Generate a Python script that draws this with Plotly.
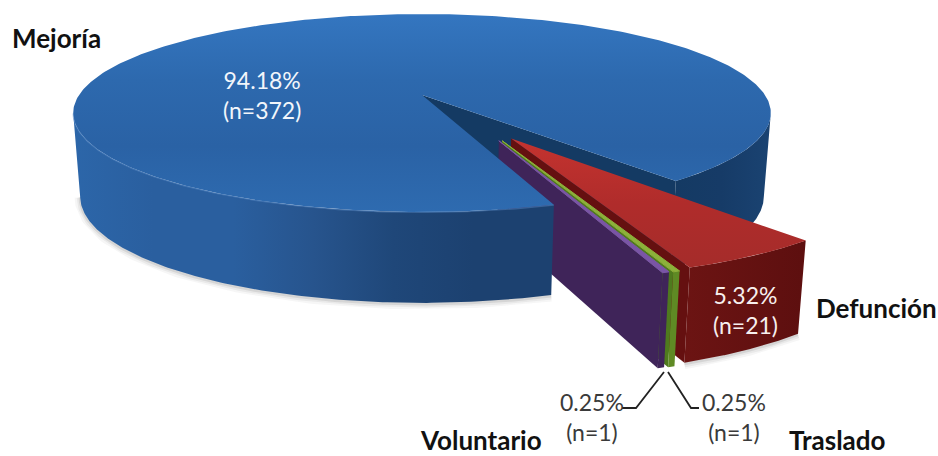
import numpy as np
import plotly.graph_objects as go

# Discharge outcome shares
categories = ["Mejoría", "Defunción", "Traslado", "Voluntario"]
percentages = [94.18, 5.32, 0.25, 0.25]
counts = [372, 21, 1, 1]

# Perspective camera for the disc, in page pixels
APEX_X, APEX_Y = 422.0, 95.0
SCALE_X, SCALE_Y = 343.0, 95.7
PERSPECTIVE = 0.182
BASE_SHRINK = 0.98
START_ANGLE = -50.5

# Slice offsets in the disc plane
OFFSETS = {
    "Mejoría": (0.0, 0.0),
    "Defunción": (0.24, -0.42),
    "Traslado": (0.215, -0.44),
    "Voluntario": (0.206, -0.44),
}


def project(u, v, base=False):
    u, v = np.asarray(u, float), np.asarray(v, float)
    w = 1 + PERSPECTIVE * v
    x = APEX_X + SCALE_X * u / w
    y = APEX_Y - SCALE_Y * v / w
    if base:
        x = APEX_X + BASE_SHRINK * (x - APEX_X)
        y = y + 82 + 40 * (1 / w - 1)
    return x, y


def arc(name, a0, a1, base=False, steps=160):
    t = np.radians(np.linspace(a0, a1, steps))
    du, dv = OFFSETS[name]
    return project(du + np.cos(t), dv + np.sin(t), base)


def centre(name, base=False):
    du, dv = OFFSETS[name]
    x, y = project([du], [dv], base)
    return x, y


def poly(fig, xs, ys, color=None, gradient=None, edge=0):
    kw = dict(fillgradient=gradient) if gradient else dict(fillcolor=color)
    fig.add_trace(go.Scatter(
        x=np.r_[xs, xs[0]], y=np.r_[ys, ys[0]], mode="lines", fill="toself",
        line=dict(width=edge, color=color or "rgba(0,0,0,0)"),
        hoverinfo="skip", showlegend=False, **kw))


def stroke(fig, xs, ys, color, width):
    fig.add_trace(go.Scatter(x=xs, y=ys, mode="lines",
                             line=dict(color=color, width=width),
                             hoverinfo="skip", showlegend=False))


def side(name, a0, a1):
    tx, ty = arc(name, a0, a1)
    bx, by = arc(name, a0, a1, base=True)
    return np.r_[tx, bx[::-1]], np.r_[ty, by[::-1]]


def cut(name, a):
    ax, ay = centre(name)
    bx, by = centre(name, True)
    tx, ty = arc(name, a, a, steps=1)
    ex, ey = arc(name, a, a, base=True, steps=1)
    return np.r_[ax, tx, ex, bx], np.r_[ay, ty, ey, by]


def top(name, a0, a1):
    ax, ay = centre(name)
    tx, ty = arc(name, a0, a1, steps=400)
    return np.r_[ax, tx], np.r_[ay, ty]


def hgrad(*colors):
    n = len(colors) - 1
    return dict(type="horizontal", colorscale=[[i / n, c] for i, c in enumerate(colors)])


def vgrad(*colors):
    # Colours listed from the lower edge of the shape upward
    n = len(colors) - 1
    return dict(type="vertical", colorscale=[[i / n, c] for i, c in enumerate(colors)])


# Sweep: slices run clockwise from the start angle
sweep = [p / sum(percentages) * 360 for p in percentages]
red0, red1 = START_ANGLE, START_ANGLE - sweep[1]
green0, green1 = red1, red1 - sweep[2]
purple0, purple1 = green1, green1 - sweep[3]
blue0, blue1 = purple1, START_ANGLE - 360

# Silhouette angles: the wall folds behind the top face past these
TANGENT = np.degrees(np.arcsin(PERSPECTIVE))
FRONT_END = -180 + TANGENT
BACK_END = -TANGENT

fig = go.Figure()

# Soft ground shadow
for width, alpha in ((11, 0.05), (7, 0.07), (3, 0.12)):
    shade = f"rgba(70,70,70,{alpha})"
    bx, by = arc("Mejoría", blue0, FRONT_END, base=True)
    stroke(fig, bx, by + 1, shade, width)
    bx, by = arc("Defunción", red0, red1, base=True)
    stroke(fig, bx, by + 1, shade, width)

# Blue: far outer wall and the cut face looking at the viewer
x, y = side("Mejoría", START_ANGLE, BACK_END)
poly(fig, x, y, gradient=hgrad("#143a63", "#163b67", "#1a4372"))
x, y = cut("Mejoría", START_ANGLE)
poly(fig, x, y, "#143a63")

# Red slice
x, y = cut("Defunción", red1)
poly(fig, x, y, "#651010")
x, y = side("Defunción", red0, red1)
poly(fig, x, y, gradient=hgrad("#6c1413", "#5d0f0f"))
x, y = top("Defunción", red0, red1)
poly(fig, x, y, gradient=vgrad("#a52c2a", "#b02c2b", "#c4332f"))

# Green slice
x, y = cut("Traslado", green1)
poly(fig, x, y, "#4f7a1e")
x, y = side("Traslado", green0, green1)
poly(fig, x, y, "#5f8a24")
x, y = top("Traslado", green0, green1)
poly(fig, x, y, "#8cb13a", edge=1)

# Purple slice
x, y = cut("Voluntario", purple1)
poly(fig, x, y, "#3f2459")
x, y = side("Voluntario", purple0, purple1)
poly(fig, x, y, "#3f2459")
x, y = top("Voluntario", purple0, purple1)
poly(fig, x, y, "#7a55a6", edge=1)

# Blue: front wall and top face sit over the slices' hidden parts
x, y = side("Mejoría", blue0, FRONT_END)
poly(fig, x, y, gradient=hgrad("#2c66a9", "#2a5f9f", "#2a5f9f", "#27548d", "#1f4779", "#1c4170", "#1c4170"))
x, y = top("Mejoría", blue0, blue1)
poly(fig, x, y, gradient=vgrad("#2e6bb0", "#2a62a5", "#2d69ae", "#3476c0"))
rx, ry = arc("Mejoría", blue0, FRONT_END)
stroke(fig, rx, ry + 0.5, "rgba(90,140,200,0.45)", 1.2)

# Leader lines for the two smallest slices
stroke(fig, [664, 636, 622], [372, 408, 408], "#222222", 1.8)
stroke(fig, [668, 691, 699], [372, 408, 408], "#222222", 1.8)

FONT = "Lato, Carlito, sans-serif"
value_text = [f"{p:.2f}%<br>(n={n})" for p, n in zip(percentages, counts)]
value_pos = [(262, 95, "#f2f6fb"), (745, 310, "#f7efee"), (734, 417, "#3a3a3a"), (592, 417, "#3a3a3a")]
name_pos = [(56, 38), (876, 308), (837, 440), (481, 440)]

for txt, (px, py, col) in zip(value_text, value_pos):
    fig.add_annotation(x=px, y=py, text=txt, showarrow=False,
                       font=dict(family=FONT, size=23, color=col))
for name, (px, py) in zip(categories, name_pos):
    fig.add_annotation(x=px, y=py, text=f"<b>{name}</b>", showarrow=False,
                       font=dict(family=FONT, size=26, color="#111111"))

fig.update_layout(
    width=938, height=456, margin=dict(l=0, r=0, t=0, b=0),
    paper_bgcolor="white", plot_bgcolor="white", showlegend=False,
    xaxis=dict(range=[0, 938], visible=False, fixedrange=True),
    yaxis=dict(range=[456, 0], visible=False, fixedrange=True),
)
fig.write_html("out.html", config=dict(displayModeBar=False))
